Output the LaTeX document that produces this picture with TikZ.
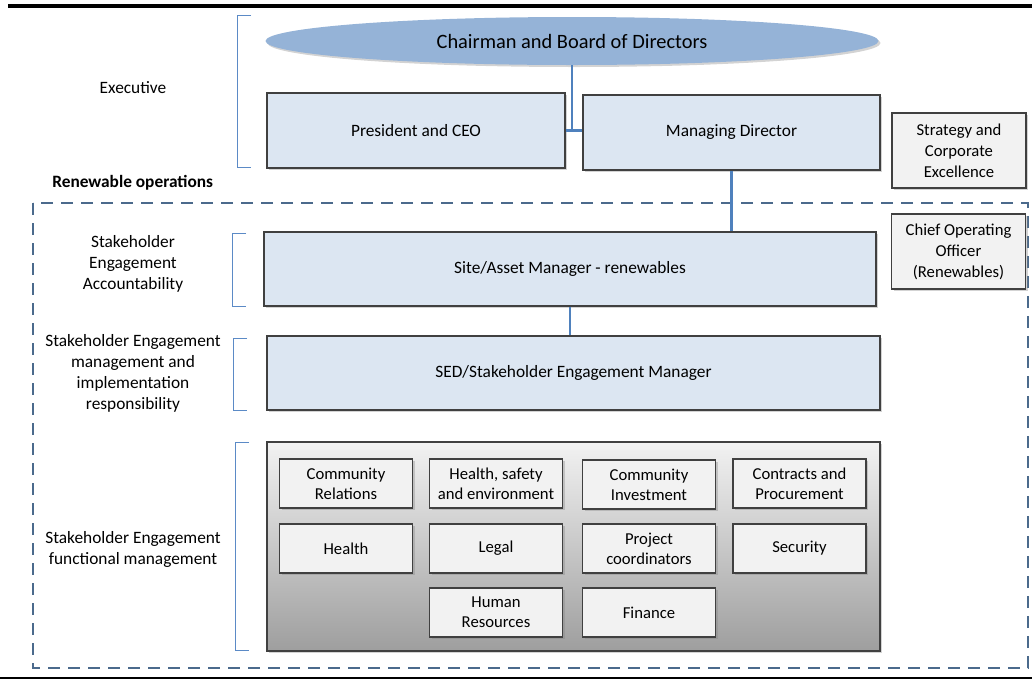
\documentclass[tikz,border=0pt]{standalone}
\usepackage{fontspec}
\setmainfont{Carlito}
\usetikzlibrary{shapes.geometric,shadows}
\newlength{\pxu}\setlength{\pxu}{0.75pt}
\definecolor{boxblue}{HTML}{DCE6F2}
\definecolor{boardblue}{HTML}{95B3D7}
\definecolor{boxgray}{HTML}{F2F2F2}
\definecolor{boxline}{HTML}{404040}
\definecolor{linkblue}{HTML}{4F81BD}
\definecolor{framblue}{HTML}{4B6A8C}
\definecolor{brackblue}{HTML}{5B8AC6}

\begin{document}
\begin{tikzpicture}[x=\pxu, y=-\pxu,
  shade/.style={drop shadow={opacity=0.35, shadow xshift=1.5pt, shadow yshift=-1.5pt}},
  unit/.style={draw=boxline, line width=0.9pt, fill=boxblue, shade, minimum height=75\pxu,
    font=\fontsize{13}{15.75}\selectfont},
  side/.style={draw=boxline, line width=0.9pt, fill=boxgray, shade, minimum width=134\pxu,
    minimum height=75\pxu, align=center, font=\fontsize{12.5}{15.75}\selectfont},
  func/.style={draw=boxline, line width=0.9pt, fill=boxgray, shade, minimum width=133\pxu,
    minimum height=49\pxu, align=center, inner sep=1pt, font=\fontsize{12.5}{15}\selectfont},
  level/.style={align=center, font=\fontsize{13}{15.75}\selectfont},
  link/.style={draw=linkblue, line width=2.2pt},
  bracket/.style={draw=brackblue, line width=0.7pt}]
\useasboundingbox (0,0) rectangle (1032,679);

% page rules
\draw[line width=3pt] (8,6) -- (1032,6);
\draw[line width=0.9pt] (0,678) -- (1032,678);

% executive level
\node[ellipse, fill=boardblue, shade, minimum width=613\pxu, minimum height=48\pxu,
  inner sep=0pt, font=\fontsize{15.3}{18}\selectfont] (board) at (572,41) {Chairman and Board of Directors};
\node[unit, minimum width=298\pxu] (ceo) at (416,130.5) {President and CEO};
\node[unit, minimum width=297\pxu] (md) at (731.5,132.5) {Managing Director};
\node[side] (strat) at (959,150.5) {Strategy and\\Corporate\\Excellence};

\node[level] (exec) at (133,88) {Executive};
\node[anchor=west, inner sep=0pt, font=\bfseries\fontsize{13}{15.75}\selectfont] (renew) at (52,183) {Renewable operations};

% renewable operations
\draw[framblue, line width=1.6pt, dash pattern=on 9pt off 6pt] (33,203) rectangle (1028,668);
\node[side] (coo) at (958.5,251.5) {Chief Operating\\Officer\\(Renewables)};
\node[unit, minimum width=612\pxu, minimum height=74\pxu] (site) at (570,269) {Site/Asset Manager - renewables};
\node[unit, minimum width=613\pxu, minimum height=74\pxu] (sed) at (573.5,373) {SED/Stakeholder Engagement Manager};
\node[draw=boxline, line width=0.9pt, top color=boxgray, bottom color=black!38, shade,
  minimum width=613\pxu, minimum height=209\pxu] (pool) at (573.5,546.5) {};

\foreach \name/\x/\y/\txt in {
    cr/346/483.5/{Community\\Relations},
    hse/496/483.5/{Health, safety\\and environment},
    ci/649/484.5/{Community\\Investment},
    cp/799.5/483.5/{Contracts and\\Procurement},
    health/346/548.5/{Health},
    legal/496/548.5/{Legal},
    pc/649/548.5/{Project\\coordinators},
    sec/799.5/548.5/{Security},
    hr/496/612.5/{Human\\Resources},
    fin/649/612.5/{Finance}}
  \node[func] (\name) at (\x,\y) {\txt};

\node[level] (acc) at (133,264) {Stakeholder\\Engagement\\Accountability};
\node[level] (mgmt) at (133,373) {Stakeholder Engagement\\management and\\implementation\\responsibility};
\node[level] (fun) at (133,549) {Stakeholder Engagement\\functional management};

% brackets
\draw[bracket] (251,15) -- (237,15) -- (237,167) -- (251,167);
\draw[bracket] (246,233) -- (232,233) -- (232,306) -- (246,306);
\draw[bracket] (247,338) -- (233,338) -- (233,410) -- (247,410);
\draw[bracket] (249,442) -- (235,442) -- (235,650) -- (249,650);

% reporting lines
\coordinate (tee) at (board.south |- ceo.east);
\draw[link] (board.south) -- (tee);
\draw[link] (ceo.east) -- (ceo.east -| md.west);
\draw[link] (md.south) -- (md.south |- site.north);
\draw[link] (site.south) -- (site.south |- sed.north);
\end{tikzpicture}
\end{document}
